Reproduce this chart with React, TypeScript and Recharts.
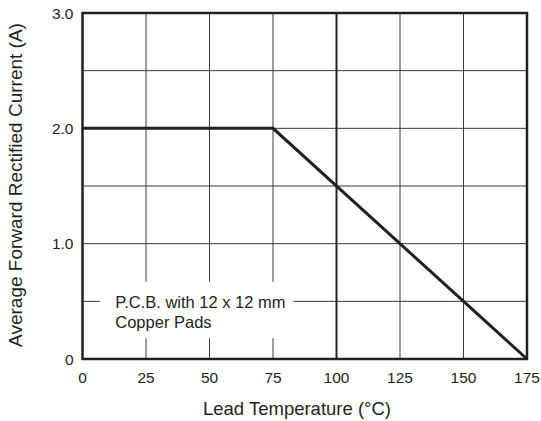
import React from 'react';
import { LineChart, Line, XAxis, YAxis, CartesianGrid, ReferenceArea, ReferenceLine } from 'recharts';

const temperatures = [0, 75, 175];
const currents = [2.0, 2.0, 0];
const xTicks = [0, 25, 50, 75, 100, 125, 150, 175];
const yTicks = [0, 0.5, 1, 1.5, 2, 2.5, 3];
const yTickLabels: Record<string, string> = { '0': '0', '1': '1.0', '2': '2.0', '3': '3.0' };
const noteLines = ['P.C.B. with 12 x 12 mm', 'Copper Pads'];
const xTitle = 'Lead Temperature (\u00B0C)';
const yTitle = 'Average Forward Rectified Current (A)';

const data = temperatures.map((t, i) => ({ t, a: currents[i] }));

const FONT = '"Liberation Sans", Arial, Helvetica, sans-serif';
const INK = '#231f20';

const NoteLabel = (props: any) => {
  const vb = props.viewBox || {};
  return (
    <g>
      {noteLines.map((s, i) => (
        <text key={i} x={vb.x + 15} y={vb.y + 26 + i * 20} fontSize={16.5} fontFamily={FONT} fill={INK}>
          {s}
        </text>
      ))}
    </g>
  );
};

const XTitle = () => (
  <text x={297} y={415} textAnchor="middle" fontSize={18.5} fontFamily={FONT} fill={INK}>
    {xTitle}
  </text>
);

const YTitle = () => {
  const cy = 185;
  return (
    <text x={22} y={cy} transform={`rotate(-90, 22, ${cy})`} textAnchor="middle" fontSize={19} fontFamily={FONT} fill={INK}>
      {yTitle}
    </text>
  );
};

export default function App() {
  return (
    <div style={{ position: 'absolute', left: 0, top: 0, background: '#fff' }}>
      <LineChart width={541} height={421} data={data} margin={{ top: 13, right: 14, left: 0, bottom: 0 }}>
        <CartesianGrid stroke="#3a3a3a" strokeWidth={1} />
        <XAxis
          dataKey="t"
          type="number"
          domain={[0, 175]}
          ticks={xTicks}
          interval={0}
          height={62}
          tickSize={0}
          tickMargin={13}
          axisLine={false}
          tickLine={false}
          tick={{ fontSize: 15.5, fontFamily: FONT, fill: INK }}
          label={<XTitle />}
        />
        <YAxis
          type="number"
          domain={[0, 3]}
          ticks={yTicks}
          interval={0}
          width={82.5}
          tickSize={0}
          tickMargin={9}
          axisLine={false}
          tickLine={false}
          tickFormatter={(v: number) => yTickLabels[String(v)] ?? ''}
          tick={{ fontSize: 15.5, fontFamily: FONT, fill: INK }}
          label={<YTitle />}
        />
        <ReferenceLine x={100} stroke="#222" strokeWidth={2} />
        <ReferenceArea x1={7} x2={83} y1={0.18} y2={0.67} fill="#fff" fillOpacity={1} stroke="none" label={<NoteLabel />} />
        <Line
          dataKey="a"
          stroke={INK}
          strokeWidth={3}
          dot={false}
          isAnimationActive={false}
        />
        <ReferenceArea x1={0} x2={175} y1={0} y2={3} fill="none" stroke={INK} strokeWidth={2.5} ifOverflow="visible" />
      </LineChart>
    </div>
  );
}
